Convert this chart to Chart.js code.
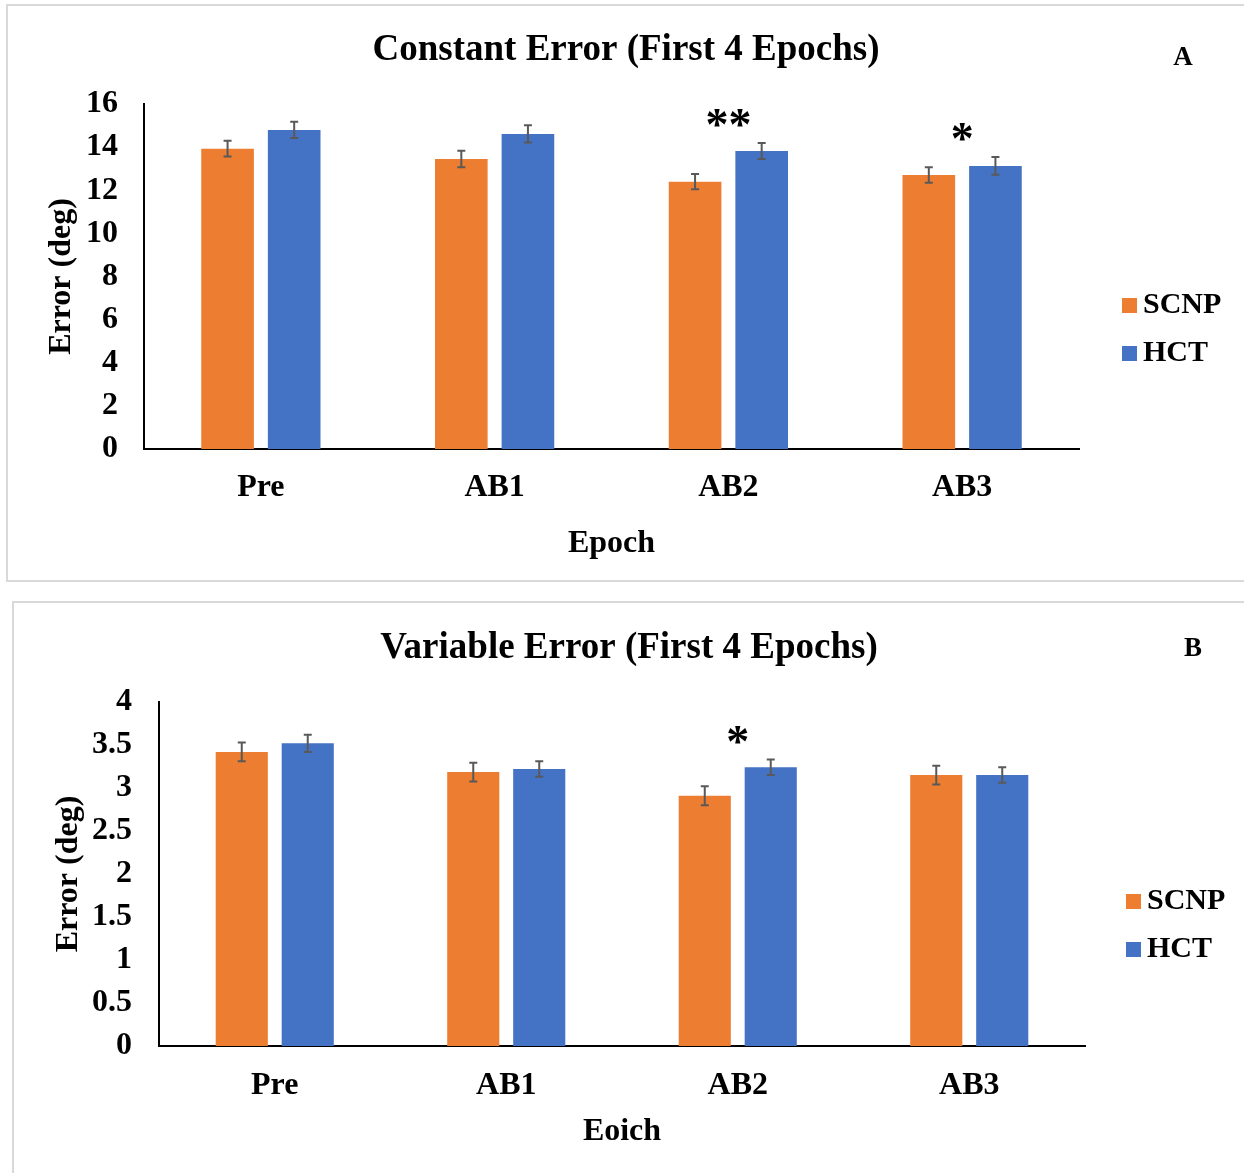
<!DOCTYPE html>
<html>
<head>
<meta charset="utf-8">
<script src="https://cdn.jsdelivr.net/npm/chart.js@4.4.0/dist/chart.umd.min.js"></script>
<style>
  html, body { margin: 0; padding: 0; background: #fff; overflow: hidden; }
  body { width: 1244px; height: 1173px; position: relative; }
  .panel { position: absolute; border: 2px solid #d9d9d9; box-sizing: border-box; background: #fff; }
  #panelA { left: 6px; top: 4px; width: 1250px; height: 578px; }
  #panelB { left: 12px; top: 601px; width: 1250px; height: 580px; }
  .panel canvas { position: absolute; left: 0; top: 0; }
</style>
</head>
<body>
<div class="panel" id="panelA"><div style="position:absolute;left:0;top:0;width:1236px;height:574px"><canvas id="chartA"></canvas></div></div>
<div class="panel" id="panelB"><div style="position:absolute;left:0;top:0;width:1230px;height:572px"><canvas id="chartB"></canvas></div></div>
<script>
const epochs = ["Pre", "AB1", "AB2", "AB3"];

// Constant error
const ceScnp = [13.93, 13.45, 12.40, 12.71];
const ceHct = [14.80, 14.61, 13.82, 13.13];
const ceScnpErr = [0.36, 0.38, 0.35, 0.36];
const ceHctErr = [0.38, 0.40, 0.37, 0.41];
const ceStars = ["", "", "**", "*"];

// Variable error
const veScnp = [3.42, 3.185, 2.91, 3.15];
const veHct = [3.52, 3.22, 3.24, 3.15];
const veScnpErr = [0.11, 0.11, 0.11, 0.11];
const veHctErr = [0.10, 0.09, 0.09, 0.09];
const veStars = ["", "", "*", ""];

const ORANGE = "#ED7D31";
const BLUE = "#4472C4";
const FONT = "'Liberation Serif', 'Times New Roman', serif";

const extras = {
  id: "extras",
  afterDatasetsDraw(chart, args, opts) {
    const ctx = chart.ctx;
    const y = chart.scales.y;
    ctx.save();
    // error bars
    ctx.strokeStyle = "#595959";
    ctx.lineWidth = 2;
    chart.data.datasets.forEach((ds, i) => {
      chart.getDatasetMeta(i).data.forEach((bar, j) => {
        const v = ds.data[j], e = ds.errors[j];
        const yt = y.getPixelForValue(v + e), yb = y.getPixelForValue(v - e);
        ctx.beginPath();
        ctx.moveTo(bar.x, yt); ctx.lineTo(bar.x, yb);
        ctx.moveTo(bar.x - 4, yt); ctx.lineTo(bar.x + 4, yt);
        ctx.moveTo(bar.x - 4, yb); ctx.lineTo(bar.x + 4, yb);
        ctx.stroke();
      });
    });
    // significance stars
    ctx.fillStyle = "#000";
    ctx.textAlign = "center";
    ctx.textBaseline = "middle";
    ctx.font = "bold 46px " + FONT;
    opts.stars.forEach((s, j) => {
      if (!s) return;
      let top = Infinity;
      chart.data.datasets.forEach((ds) => {
        top = Math.min(top, y.getPixelForValue(ds.data[j] + ds.errors[j]));
      });
      const x = chart.scales.x.getPixelForValue(j);
      ctx.fillText(s, x, top - 15);
    });
    // legend
    ctx.textAlign = "left";
    ctx.font = "bold 30px " + FONT;
    chart.data.datasets.forEach((ds, i) => {
      const ly = opts.legendY + i * 48;
      ctx.fillStyle = ds.backgroundColor;
      ctx.fillRect(opts.legendX, ly - 7, 15, 15);
      ctx.fillStyle = "#000";
      ctx.fillText(ds.label, opts.legendX + 21, ly);
    });
    // panel letter
    ctx.font = "bold 27px " + FONT;
    ctx.textAlign = "center";
    ctx.fillText(opts.letter, opts.letterX, opts.letterY);
    ctx.restore();
  }
};

function makeBarChart(canvasId, title, xTitle, scnp, hct, scnpErr, hctErr, yMax, yStep, p) {
  const ctx = document.getElementById(canvasId).getContext("2d");
  const axisFont = { family: FONT, size: 32, weight: "bold" };
  return new Chart(ctx, {
    type: "bar",
    data: {
      labels: epochs,
      datasets: [
        { label: "SCNP", data: scnp, errors: scnpErr, backgroundColor: ORANGE },
        { label: "HCT", data: hct, errors: hctErr, backgroundColor: BLUE },
      ],
    },
    plugins: [extras],
    options: {
      responsive: true,
      maintainAspectRatio: false,
      animation: false,
      layout: { padding: { left: 0, right: 0, top: 0, bottom: p.bottom } },
      datasets: { bar: { categoryPercentage: 0.57, barPercentage: 0.79 } },
      plugins: {
        legend: { display: false },
        tooltip: { enabled: false },
        title: {
          display: true,
          text: title,
          color: "#000",
          font: { family: FONT, size: 37, weight: "bold" },
          padding: { top: p.titleTop, bottom: p.titleBottom },
        },
        extras: p.extras,
      },
      scales: {
        x: {
          grid: { display: false },
          border: { color: "#000", width: 2 },
          ticks: { color: "#000", padding: p.xTickPad, font: axisFont },
          title: { display: true, text: xTitle, color: "#000", padding: { top: 0, bottom: p.xTitlePad }, font: axisFont },
          afterFit: (s) => { s.height = p.xHeight; },
        },
        y: {
          min: 0,
          max: yMax,
          grid: { display: false, drawTicks: false },
          border: { color: "#000", width: 2 },
          ticks: { stepSize: yStep, color: "#000", padding: p.yTickPad, font: axisFont, callback: (v) => String(v) },
          title: { display: true, text: "Error (deg)", color: "#000", padding: { top: p.yTitlePad, bottom: 0 }, font: axisFont },
          afterFit: (s) => { s.width = p.yWidth; },
        },
        // empty right-hand box that leaves room for the legend
        side: {
          position: "right",
          grid: { display: false },
          border: { display: false },
          ticks: { display: false },
          afterFit: (s) => { s.width = p.right; },
        },
      },
    },
  });
}

makeBarChart("chartA", "Constant Error (First 4 Epochs)", "Epoch", ceScnp, ceHct, ceScnpErr, ceHctErr, 16, 2, {
  right: 165, bottom: 11, titleTop: 22, titleBottom: 31.6, xHeight: 120, xTitlePad: 6, xTickPad: 12,
  yWidth: 136, yTickPad: 26, yTitlePad: 35,
  extras: { stars: ceStars, legendX: 1114, legendY: 299, letter: "A", letterX: 1175, letterY: 52 },
});

makeBarChart("chartB", "Variable Error (First 4 Epochs)", "Eoich", veScnp, veHct, veScnpErr, veHctErr, 4, 0.5, {
  right: 159, bottom: 19, titleTop: 23.5, titleBottom: 31.1, xHeight: 110, xTitlePad: 5, xTickPad: 13,
  yWidth: 145, yTickPad: 27, yTitlePad: 36,
  extras: { stars: veStars, legendX: 1112, legendY: 298, letter: "B", letterX: 1179, letterY: 46 },
});
</script>
</body>
</html>
